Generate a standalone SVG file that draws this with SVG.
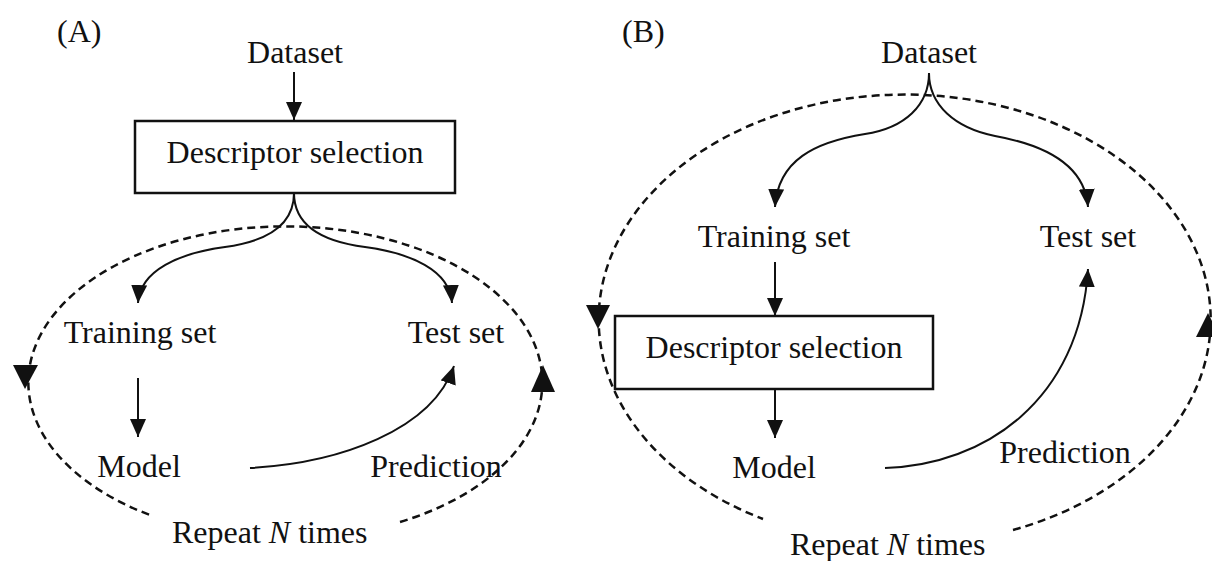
<svg xmlns="http://www.w3.org/2000/svg" width="1212" height="561" viewBox="0 0 1212 561">
  <style>
    text { font-family: "Liberation Serif", "Times New Roman", serif; font-size: 32px; fill: #111; }
    .mid { text-anchor: middle; }
    .box { fill: #fff; stroke: #111; stroke-width: 2.5; }
    .flow { fill: none; stroke: #111; stroke-width: 2; }
    .loop { fill: none; stroke: #111; stroke-width: 2.5; stroke-dasharray: 8 5; }
    .head { fill: #111; }
  </style>
  <defs>
    <marker id="arrow" markerUnits="userSpaceOnUse" markerWidth="20" markerHeight="18" refX="18" refY="8" orient="auto">
      <path d="M0,0 L18,8 L0,16 z" fill="#111"/>
    </marker>
  </defs>

  <rect width="1212" height="561" fill="#fff"/>

  <!-- Panel A -->
  <g id="panel-a">
    <text x="57" y="42">(A)</text>

    <g id="a-loop">
      <path class="loop" d="M400,522 A257,156 0 1 0 150,515"/>
      <polygon class="head" points="13,365 38,365 25,389"/>
      <polygon class="head" points="531,392 555,392 543,365"/>
      <text x="172" y="543">Repeat <tspan font-style="italic">N</tspan> times</text>
    </g>

    <g id="a-connectors">
      <path class="flow" d="M294,72 L294,120" marker-end="url(#arrow)"/>
      <path class="flow" d="M294,193 C294,228 262,242 225,247 C180,253 140,270 138,303" marker-end="url(#arrow)"/>
      <path class="flow" d="M294,193 C294,228 326,242 365,247 C410,253 450,270 452,303" marker-end="url(#arrow)"/>
      <path class="flow" d="M138,378 L138,437" marker-end="url(#arrow)"/>
      <path class="flow" d="M250,468 C340,463 432,430 454,366" marker-end="url(#arrow)"/>
    </g>

    <g id="a-dataset"><text class="mid" x="295" y="63">Dataset</text></g>
    <g id="a-descriptor">
      <rect class="box" x="135" y="121" width="320" height="72"/>
      <text class="mid" x="295" y="163">Descriptor selection</text>
    </g>
    <g id="a-training"><text class="mid" x="140" y="343">Training set</text></g>
    <g id="a-test"><text class="mid" x="456" y="343">Test set</text></g>
    <g id="a-model"><text class="mid" x="139" y="477">Model</text></g>
    <g id="a-prediction"><text class="mid" x="436" y="477">Prediction</text></g>
  </g>

  <!-- Panel B -->
  <g id="panel-b">
    <text x="622" y="42">(B)</text>

    <g id="b-loop">
      <path class="loop" d="M1013,530 A306,225 0 1 0 763,519"/>
      <polygon class="head" points="586,305 610,305 598,329"/>
      <polygon class="head" points="1196,337 1220,337 1208,313"/>
      <text x="790" y="555">Repeat <tspan font-style="italic">N</tspan> times</text>
    </g>

    <g id="b-connectors">
      <path class="flow" d="M929,73 C929,105 905,128 865,134 C815,142 778,160 775,207" marker-end="url(#arrow)"/>
      <path class="flow" d="M929,73 C929,105 955,128 995,136 C1045,145 1085,165 1088,207" marker-end="url(#arrow)"/>
      <path class="flow" d="M775,262 L775,316" marker-end="url(#arrow)"/>
      <path class="flow" d="M775,389 L775,438" marker-end="url(#arrow)"/>
      <path class="flow" d="M885,468 C985,465 1080,400 1088,269" marker-end="url(#arrow)"/>
    </g>

    <g id="b-dataset"><text class="mid" x="929" y="63">Dataset</text></g>
    <g id="b-training"><text class="mid" x="774" y="247">Training set</text></g>
    <g id="b-test"><text class="mid" x="1088" y="247">Test set</text></g>
    <g id="b-descriptor">
      <rect class="box" x="615" y="316" width="318" height="73"/>
      <text class="mid" x="774" y="358">Descriptor selection</text>
    </g>
    <g id="b-model"><text class="mid" x="774" y="478">Model</text></g>
    <g id="b-prediction"><text class="mid" x="1065" y="463">Prediction</text></g>
  </g>
</svg>
